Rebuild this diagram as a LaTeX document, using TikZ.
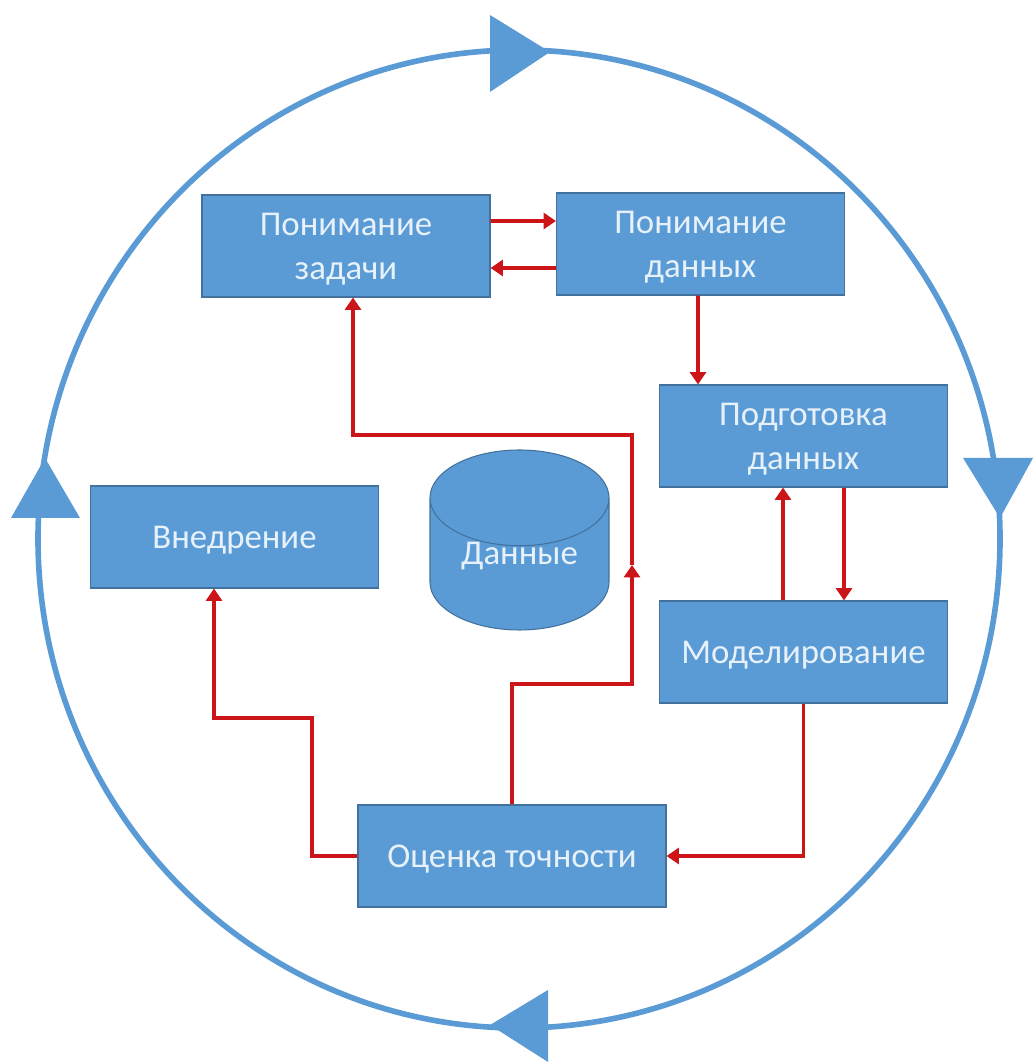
\documentclass[tikz,border=0pt]{standalone}
\usepackage{fontspec}
\setmainfont{Carlito}
\usetikzlibrary{shapes.geometric}
\usetikzlibrary{arrows.meta}
\definecolor{boxblue}{HTML}{5B9BD5}
\definecolor{boxedge}{HTML}{41719C}
\definecolor{boxtext}{HTML}{E6F1FA}
\definecolor{linkred}{HTML}{CC1518}
\newcommand{\stageline}[1]{\raisebox{-6.5pt}[0pt][0pt]{#1}}
\tikzset{
	stagefont/.style={text=boxtext, font=\fontsize{19.8}{25}\selectfont},
	stagebox/.style={draw=boxedge, rectangle, fill=boxblue, stagefont, line width=0.6pt, minimum width=5.76cm, minimum height=2.04cm, align=center, inner sep=0pt},
	plainlink/.style={draw=linkred, line width=2.1pt},
	link/.style={plainlink, -{Triangle[length=7pt, width=9pt]}},
	cycletip/.style={fill=boxblue, draw=none},
}
\begin{document}
\begin{tikzpicture}
	\useasboundingbox (0, 0) rectangle (20.66, 21.28);
	\draw[boxblue, line width=3.2pt] (10.38, 10.5) ellipse (9.62 and 9.78);
	\fill[cycletip] (9.8, 20.98) -- (11, 20.24) -- (9.8, 19.44) -- cycle;
	\fill[cycletip] (19.26, 12.12) -- (20.66, 12.12) -- (20, 10.92) -- cycle;
	\fill[cycletip] (0.9, 12.12) -- (0.22, 10.92) -- (1.6, 10.92) -- cycle;
	\fill[cycletip] (10.96, 1.48) -- (9.8, 0.78) -- (10.96, 0.04) -- cycle;
	\node[stagebox] (Task)at(6.92, 16.36) {\stageline{Понимание}\\\stageline{задачи}};
	\node[stagebox] (Data)at(14.01, 16.40) {\stageline{Понимание}\\\stageline{данных}};
	\node[stagebox] (Prep)at(16.07, 12.56) {\stageline{Подготовка}\\\stageline{данных}};
	\node[stagebox] (Model)at(16.07, 8.24) {\stageline{Моделирование}};
	\node[stagebox, minimum width=6.16cm] (Eval)at(10.24, 4.16) {\stageline{Оценка точности}};
	\node[stagebox] (Deploy)at(4.69, 10.54) {\stageline{Внедрение}};
	\node[draw=boxedge, cylinder, shape border rotate=90, aspect=0.82, fill=boxblue, stagefont, minimum width=3.58cm, minimum height=3.6cm, inner sep=0pt, anchor=shape center, line width=0.6pt] (Store)at(10.39, 10.48) {\smash{Данные}};
	\coordinate (RiseBend)at(12.64, 7.6);
	\coordinate (RiseMid)at(12.64, 9.98);
	\coordinate (TopBend)at(12.64, 12.58);
	\coordinate (DeployBend)at(6.24, 6.92);
	\draw[link] ([yshift=0.5cm]Task.east) -- ([yshift=0.46cm]Data.west);
	\draw[link] ([yshift=-0.48cm]Data.west) -- ([yshift=-0.44cm]Task.east);
	\draw[link] ([xshift=-0.05cm]Data.south) -- ([xshift=-2.11cm]Prep.north);
	\draw[link] ([xshift=0.81cm]Prep.south) -- ([xshift=0.81cm]Model.north);
	\draw[link] ([xshift=-0.41cm]Model.north) -- ([xshift=-0.41cm]Prep.south);
	\draw[link] (Model.south) |- (Eval.east);
	\draw[link] (Eval.west) -| (DeployBend) -| ([xshift=-0.41cm]Deploy.south);
	\draw[link] (Eval.north) |- (RiseBend) -- (RiseMid);
	\draw[link] (RiseMid) -- (TopBend) -| ([xshift=0.14cm]Task.south);
\end{tikzpicture}
\end{document}
